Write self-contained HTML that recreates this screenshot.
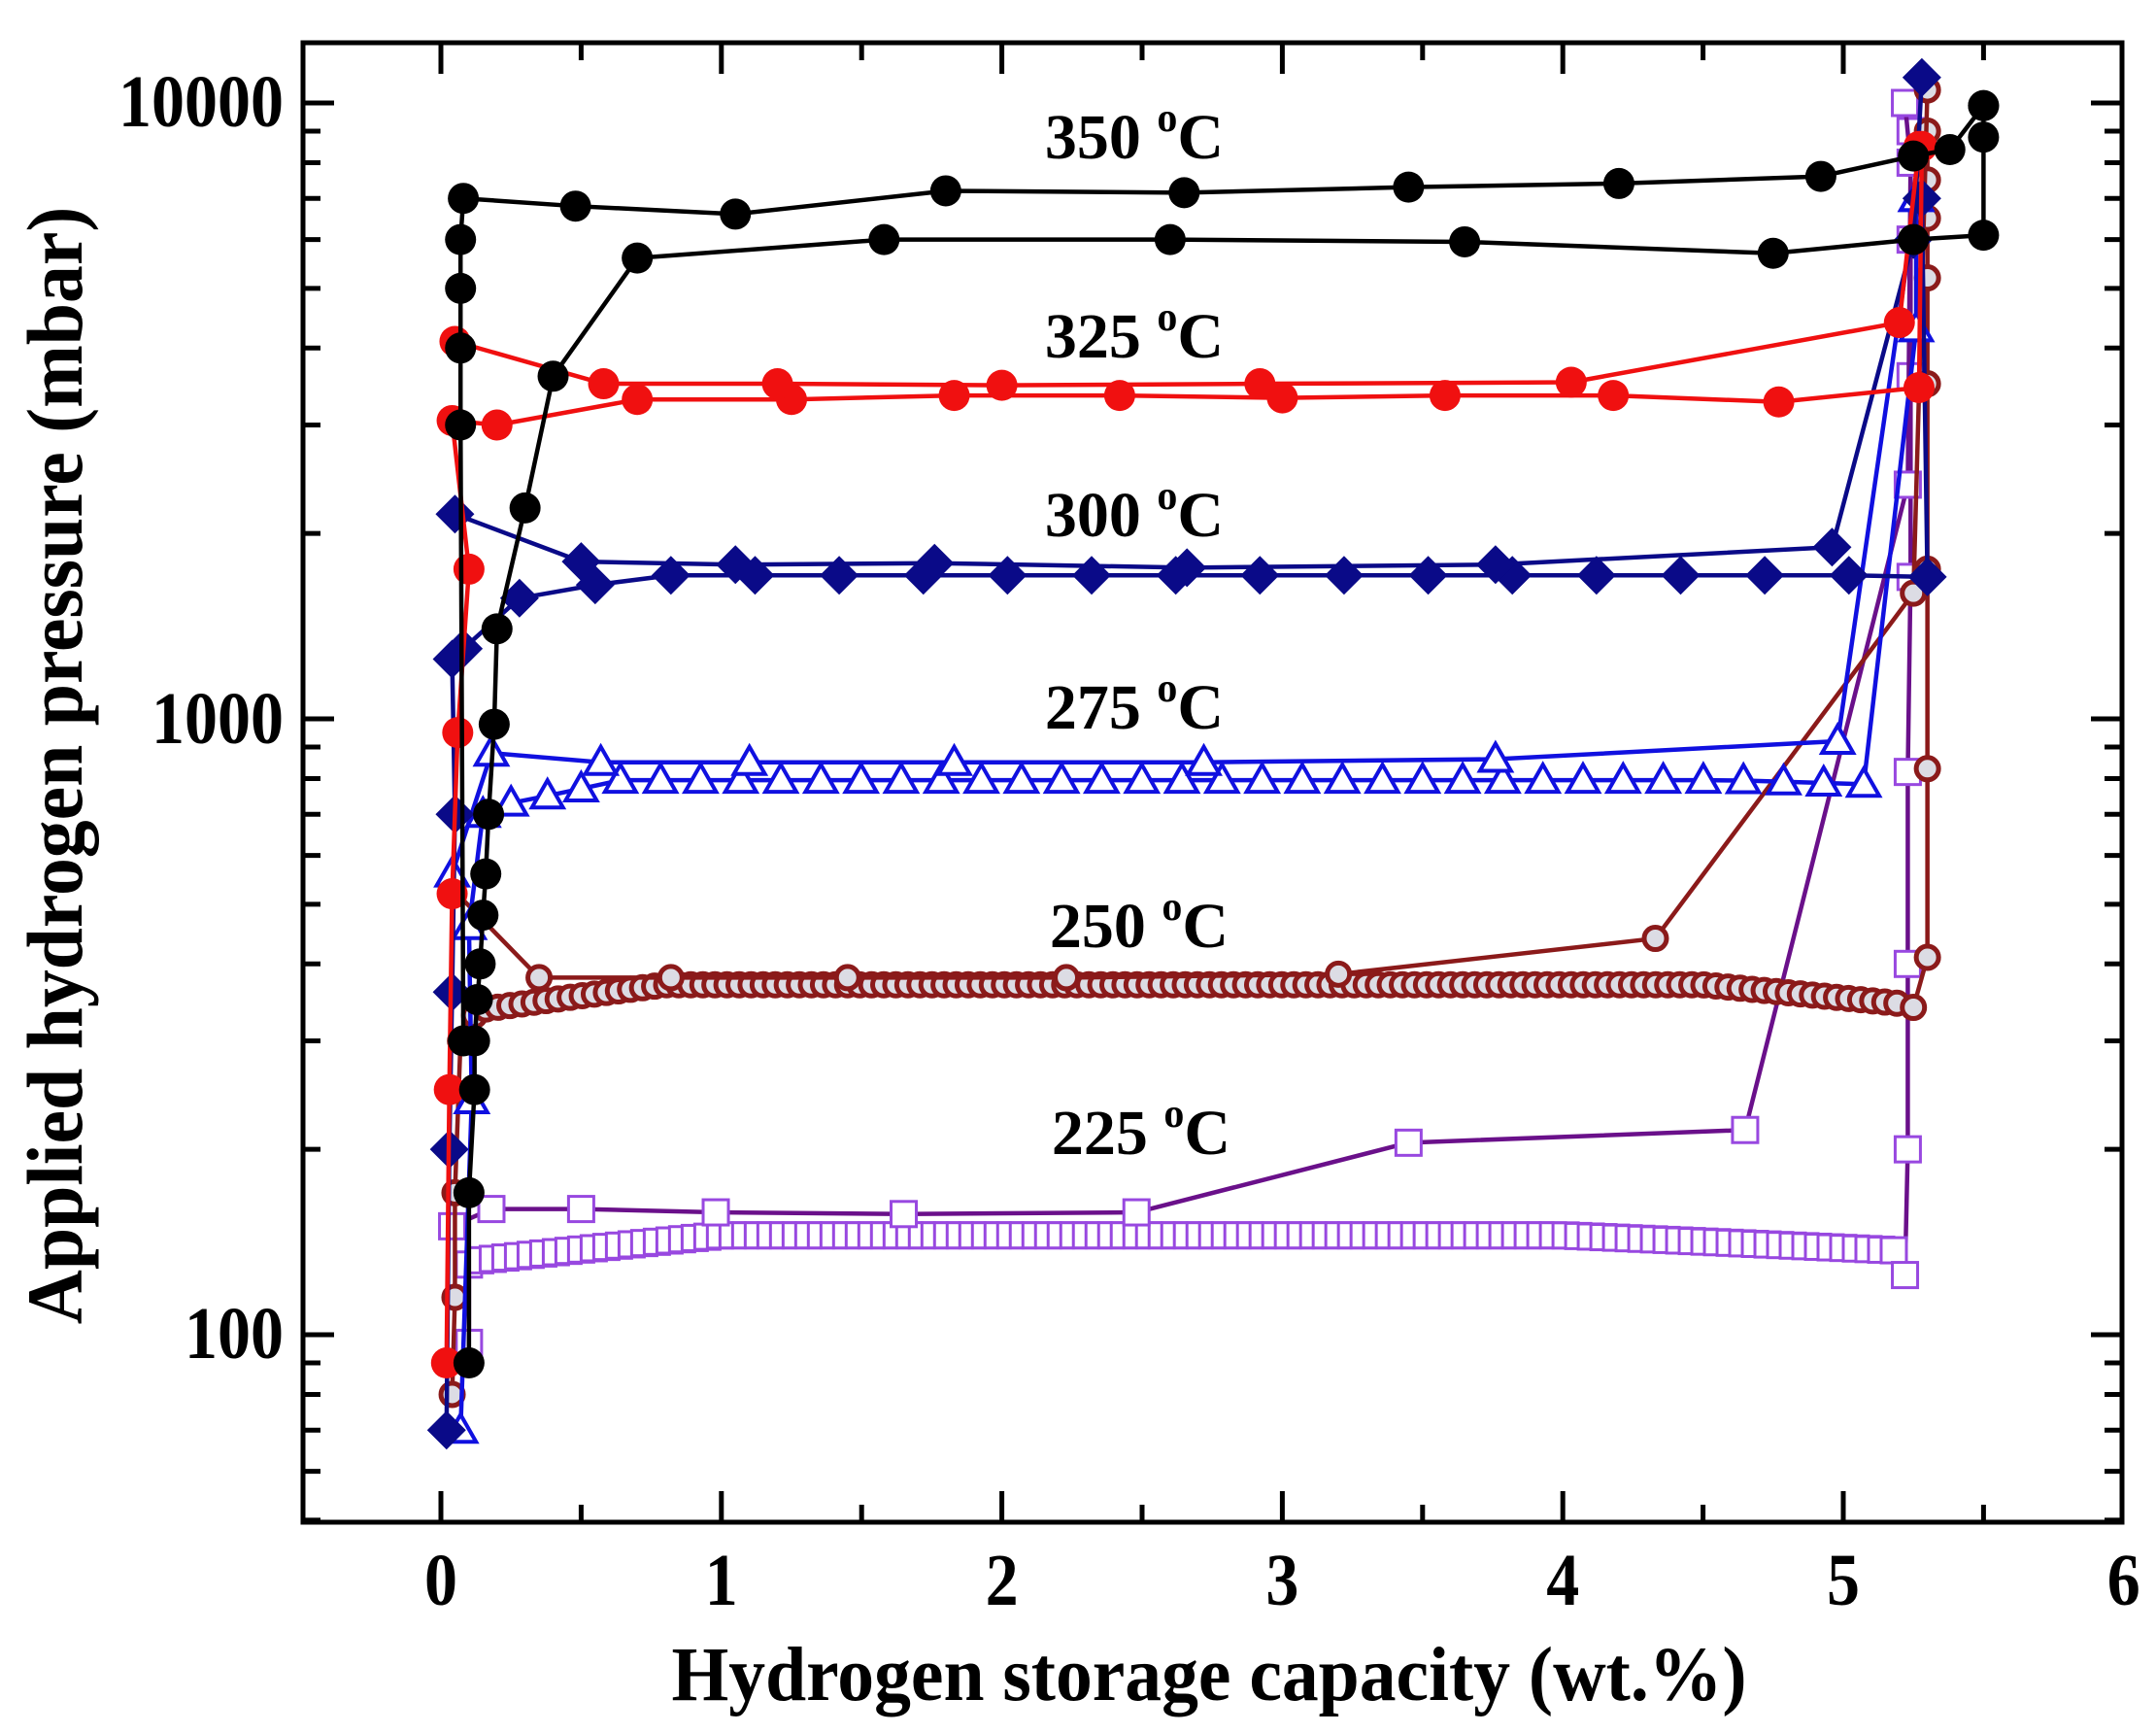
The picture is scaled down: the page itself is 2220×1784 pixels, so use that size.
<!DOCTYPE html>
<html><head><meta charset="utf-8"><style>
html,body{margin:0;padding:0;background:#fff;}
svg{display:block;}
</style></head><body>
<svg id="s" width="2220" height="1784" viewBox="0 0 2220 1784" xmlns="http://www.w3.org/2000/svg" font-family="Liberation Serif, serif" font-weight="bold">
<rect width="2220" height="1784" fill="#fff"/>
<g id="data"></g>
<rect x="312" y="44" width="1873" height="1523" fill="none" stroke="#000" stroke-width="5"/>
<g id="ticks" stroke="#000" stroke-width="5"></g>
<g font-size="68" text-anchor="end">
<text x="292" y="130" transform="translate(0,130) scale(1,1.12) translate(0,-130)">10000</text>
<text x="292" y="765" transform="translate(0,765) scale(1,1.12) translate(0,-765)">1000</text>
<text x="292" y="1398" transform="translate(0,1398) scale(1,1.12) translate(0,-1398)">100</text>
</g>
<g id="xl" font-size="68" text-anchor="middle"></g>
<text x="1245" y="1750" font-size="72" text-anchor="middle" transform="translate(1245,1750) scale(1.05,1.1) translate(-1245,-1750)">Hydrogen storage capacity (wt.%)</text>
<text transform="translate(84,788) rotate(-90) scale(1.05,1.1)" font-size="74" text-anchor="middle">Applied hydrogen pressure (mbar)</text>
<g font-size="66" text-anchor="middle">
<text x="1168" y="163">350 <tspan font-size="42" dy="-28">o</tspan><tspan dy="28">C</tspan></text>
<text x="1168" y="368">325 <tspan font-size="42" dy="-28">o</tspan><tspan dy="28">C</tspan></text>
<text x="1168" y="552">300 <tspan font-size="42" dy="-28">o</tspan><tspan dy="28">C</tspan></text>
<text x="1168" y="750">275 <tspan font-size="42" dy="-28">o</tspan><tspan dy="28">C</tspan></text>
<text x="1173" y="975">250 <tspan font-size="42" dy="-28">o</tspan><tspan dy="28">C</tspan></text>
<text x="1175" y="1188">225 <tspan font-size="42" dy="-28">o</tspan><tspan dy="28">C</tspan></text>
</g>
</svg>
<script>
var NS="http://www.w3.org/2000/svg";
function X(w){return 454+288.8*w;}
function Y(p){return 1374-634*Math.log10(p/100);}
function el(par,tag,a){var e=document.createElementNS(NS,tag);for(var k in a)e.setAttribute(k,a[k]);par.appendChild(e);return e;}
var T=document.getElementById('ticks');
for(var d=1;d<=4;d++){for(var m=1;m<10;m++){var v=m*Math.pow(10,d);var y=Y(v);if(y<46||y>1565)continue;var L=(m==1)?32:18;
el(T,'line',{x1:312,y1:y,x2:312+L,y2:y});el(T,'line',{x1:2185,y1:y,x2:2185-L,y2:y});}}
var XL=document.getElementById('xl');
for(var i=0;i<=12;i++){var w=i/2;var x=X(w);var L=(i%2==0)?32:18;
if(x<2183){el(T,'line',{x1:x,y1:1567,x2:x,y2:1567-L});el(T,'line',{x1:x,y1:44,x2:x,y2:44+L});}
if(i%2==0){var t=el(XL,'text',{x:x,y:1652,transform:'translate(0,1652) scale(1,1.12) translate(0,-1652)'});t.textContent=i/2;}}
var D=document.getElementById('data');
function line(pts,col,wd){el(D,'polyline',{points:pts.map(function(p){return X(p[0])+','+Y(p[1]);}).join(' '),fill:'none',stroke:col,'stroke-width':wd||4.5,'stroke-linejoin':'round'});}
function mk(pts,type,col,fill){pts.forEach(function(p){var x=X(p[0]),y=Y(p[1]);
if(type=='c')el(D,'circle',{cx:x,cy:y,r:16,fill:col});
else if(type=='o')el(D,'circle',{cx:x,cy:y,r:11.5,fill:fill,stroke:col,'stroke-width':5});
else if(type=='d')el(D,'polygon',{points:[x,y-20,x+20,y,x,y+20,x-20,y].join(' '),fill:col});
else if(type=='t')el(D,'polygon',{points:[x,y-16,x+16,y+12,x-16,y+12].join(' '),fill:'#fff',stroke:col,'stroke-width':4});
else if(type=='s')el(D,'rect',{x:x-13,y:y-13,width:26,height:26,fill:'#fff',stroke:col,'stroke-width':3});
});}
function series(pts,type,col,lc,fill){line(pts,lc||col);mk(pts,type,col,fill);}
var p225a=[[0.1,97],[0.1,130]];for(var w=0.14;w<=5.2;w+=0.045){var v=w<1?130+15*(w/1):(w<4?145:145-8*(w-4)/1.2);p225a.push([w,v]);}
p225a.push([5.22,125],[5.23,200],[5.23,400],[5.23,820],[5.24,1700],[5.24,3600],[5.24,6000],[5.24,9000]);
var p225b=[[0.04,150],[0.18,160],[0.5,160],[0.98,158],[1.65,157],[2.48,158],[3.45,205],[4.65,215],[5.23,2400],[5.24,8000],[5.22,10000]];
series(p225a,'s','#9848e0','#6a108a');series(p225b,'s','#9848e0','#6a108a');
var p250a=[[0.04,80],[0.05,115],[0.05,170],[0.07,300],[0.12,330]];for(var w=0.16;w<=5.22;w+=0.043){var v=w<0.8?330+40*(w/0.8):(w<4.5?370:370-25*(w-4.5)/0.7);p250a.push([w,v]);}
p250a.push([5.25,340],[5.3,410],[5.3,830],[5.3,1750],[5.3,3500],[5.3,5200],[5.3,6500],[5.3,7500],[5.3,9000]);
var p250b=[[0.04,530],[0.35,380],[0.82,380],[1.45,380],[2.23,380],[3.2,385],[4.33,440],[5.25,1600],[5.3,10500]];
series(p250a,'o','#8b1a1a','#8b1a1a','#dcdce4');series(p250b,'o','#8b1a1a','#8b1a1a','#dcdce4');
var p275a=[[0.07,70],[0.11,240],[0.1,460],[0.15,700],[0.25,730],[0.38,750],[0.5,770]];for(var w=0.64;w<=5.2;w+=0.143){p275a.push([w,w>4.6?795-15*(w-4.6)/0.6:795]);}
p275a.push([5.26,4300],[5.26,7000]);
var p275b=[[0.04,560],[0.18,880],[0.57,850],[1.1,850],[1.83,850],[2.72,850],[3.76,860],[4.98,920],[5.26,7000]];
series(p275a,'t','#1010e0');series(p275b,'t','#1010e0');
var p300a=[[0.02,70],[0.03,200],[0.04,360],[0.05,700],[0.04,1250],[0.08,1300],[0.28,1570],[0.55,1650]];for(var w=0.82;w<=5.05;w+=0.3){p300a.push([w,1710]);}
p300a.push([5.3,1700],[5.28,7000]);
var p300b=[[0.05,2150],[0.5,1800],[1.05,1780],[1.76,1790],[2.66,1760],[3.76,1780],[4.96,1900],[5.25,6000],[5.28,11000]];
series(p300a,'d','#0a0a88');series(p300b,'d','#0a0a88');
var p325a=[[0.02,90],[0.03,250],[0.04,520],[0.06,950],[0.1,1750],[0.04,3050],[0.2,3000],[0.7,3300],[1.25,3300],[1.83,3350],[2.42,3350],[3,3320],[3.58,3350],[4.18,3350],[4.77,3270],[5.27,3450],[5.28,8500]];
var p325b=[[0.05,4100],[0.58,3500],[1.2,3500],[2,3480],[2.92,3500],[4.03,3520],[5.2,4400],[5.27,8500]];
series(p325a,'c','#f01010');series(p325b,'c','#f01010');
var p350a=[[0.08,300],[0.07,3000],[0.07,4000],[0.07,5000],[0.07,6000],[0.08,7000],[0.48,6800],[1.05,6600],[1.8,7200],[2.65,7150],[3.45,7300],[4.2,7400],[4.92,7600],[5.25,8200],[5.38,8400],[5.5,9900]];
var p350b=[[5.5,9900],[5.5,8800],[5.5,6100],[5.25,6000],[4.75,5700],[3.65,5950],[2.6,6000],[1.58,6000],[0.7,5600],[0.4,3600],[0.3,2200],[0.2,1400],[0.19,980],[0.17,700],[0.16,560],[0.15,480],[0.14,400],[0.13,350],[0.12,300],[0.12,250],[0.1,170],[0.1,90]];
series(p350a,'c','#000');series(p350b,'c','#000');
</script>
</body></html>
